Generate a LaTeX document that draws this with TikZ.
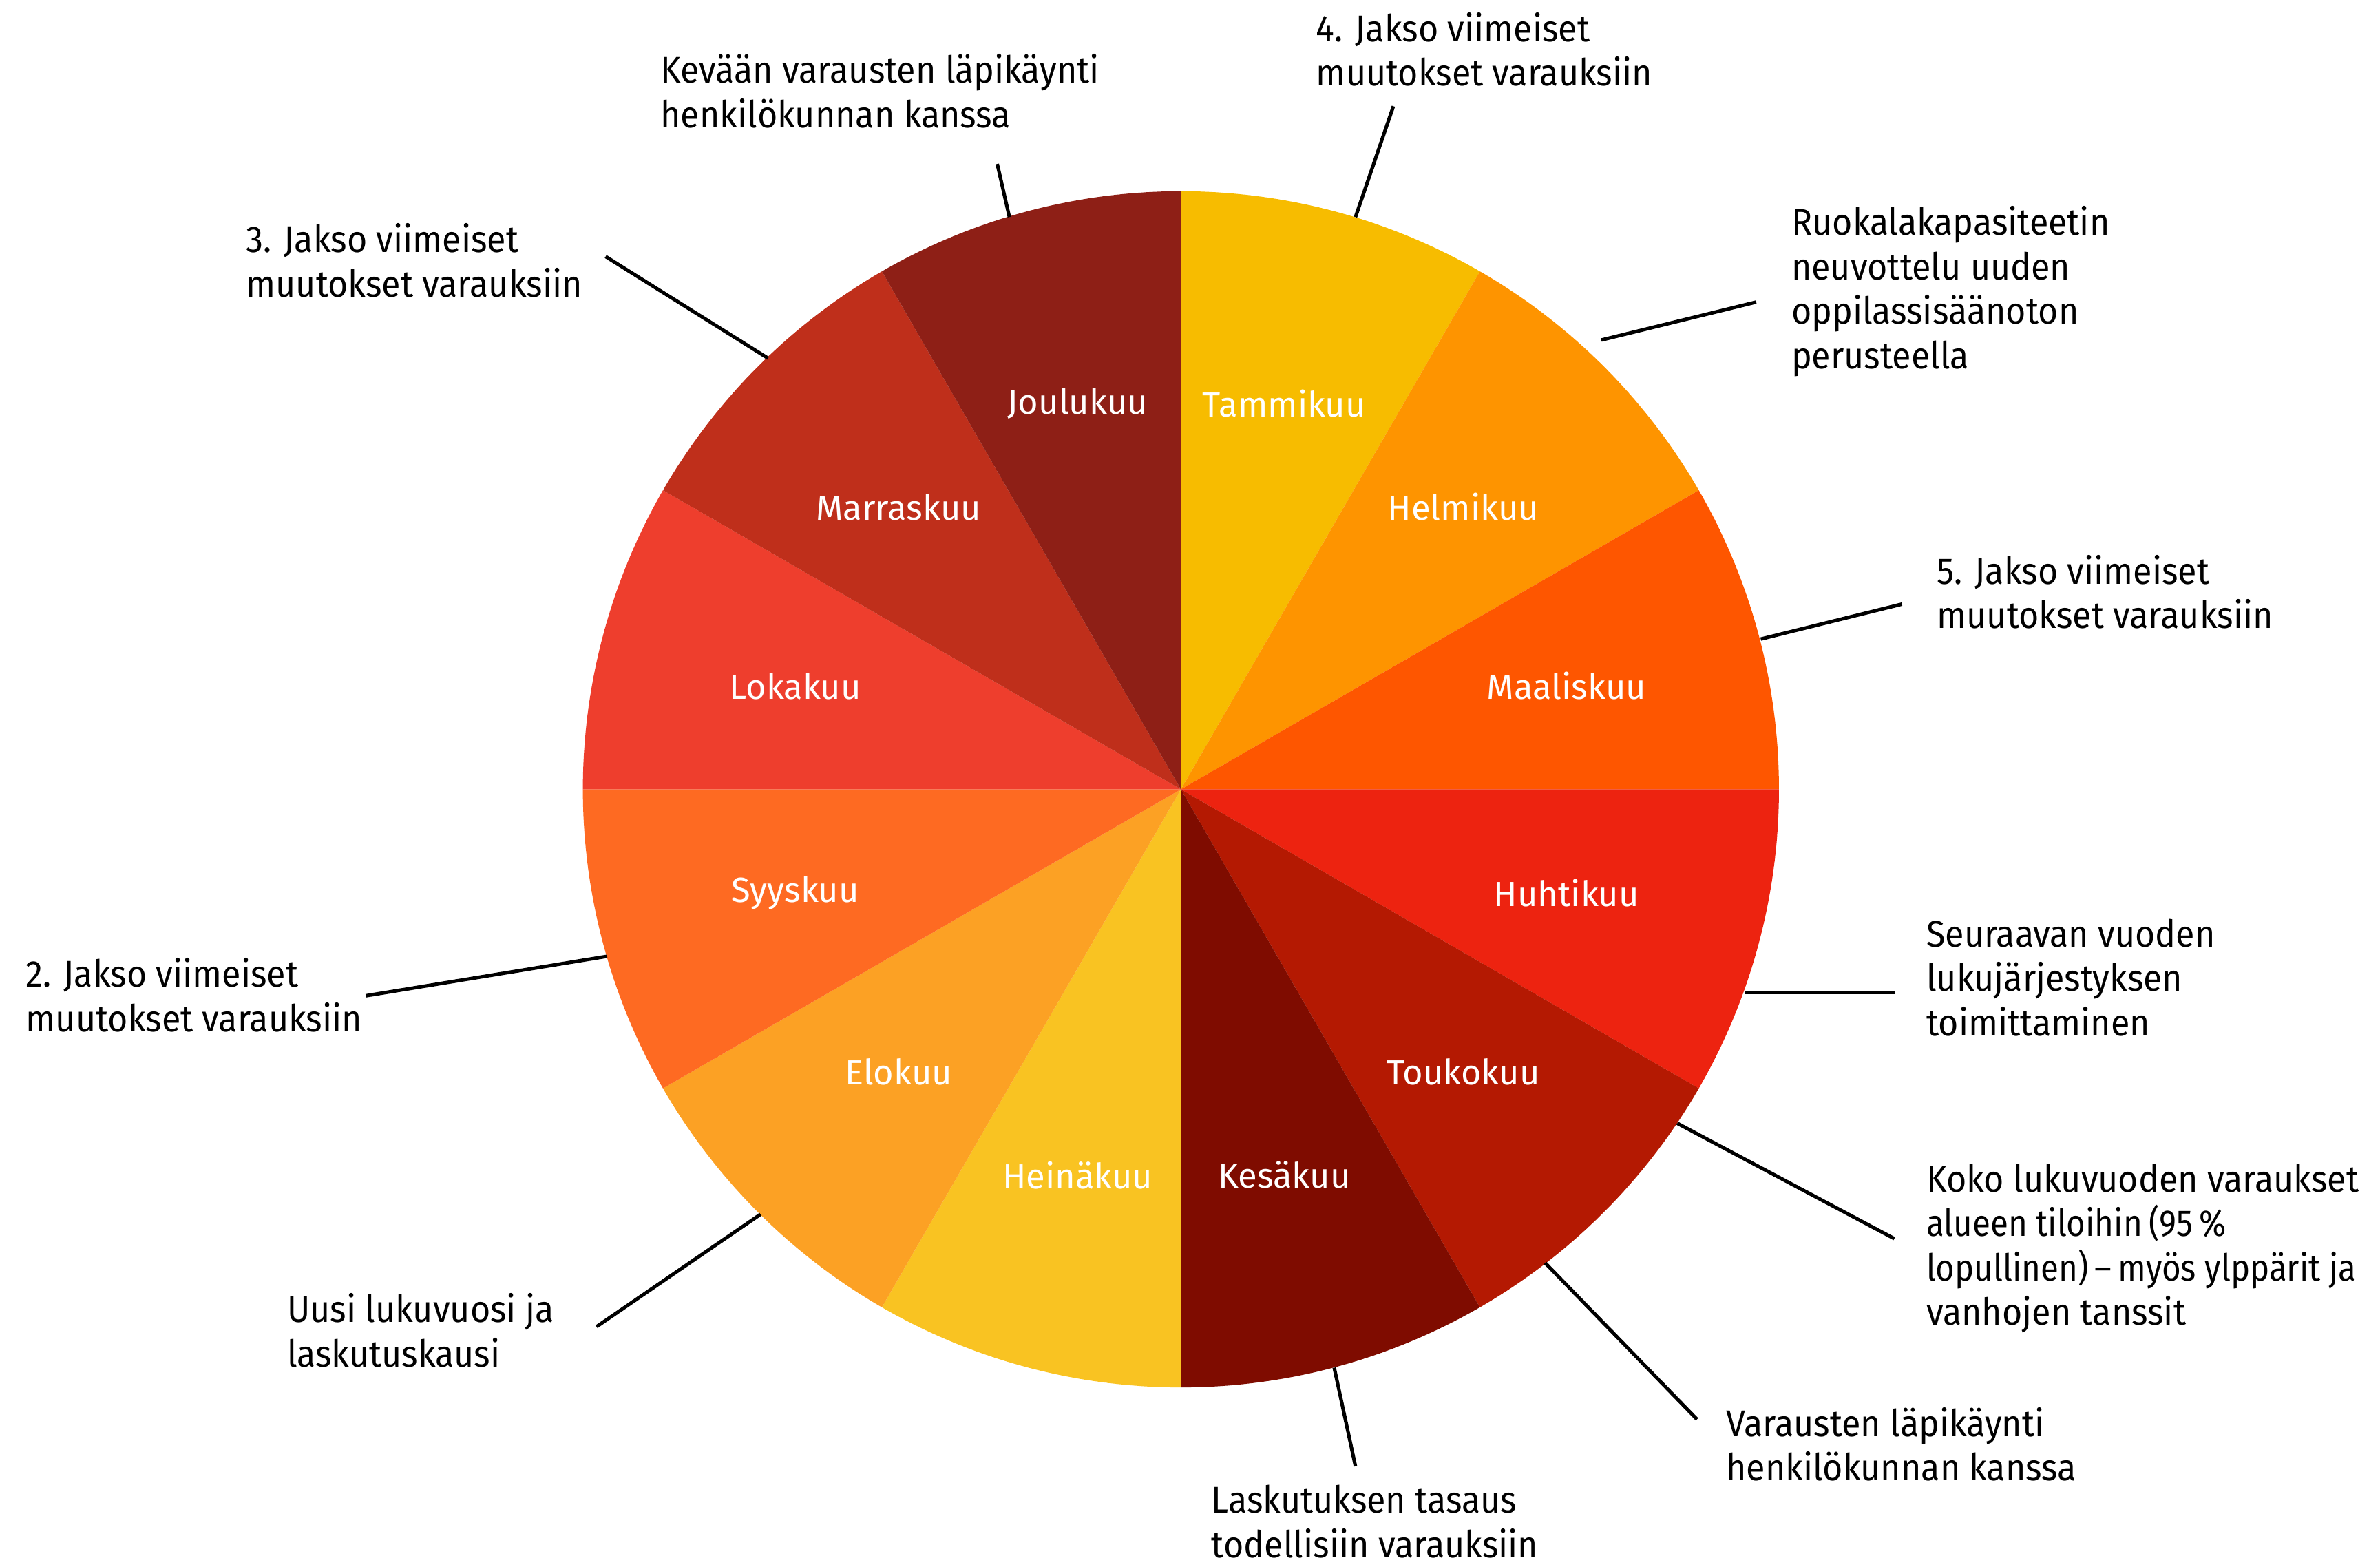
\documentclass[tikz,border=0pt]{standalone}
\usepackage{fontspec}
\setmainfont{Fira Sans}[FakeStretch=0.93]
\newfontfamily\monthfont{Fira Sans}
\newfontfamily\narrowfont{Fira Sans}[FakeStretch=0.88]
\begin{document}
\begin{tikzpicture}[x=1pt,y=1pt,
  ann/.style={font=\fontsize{24.5}{29.3}\selectfont, align=left, anchor=west, inner sep=0pt, text=black},
  mon/.style={font=\monthfont\fontsize{23}{26}\selectfont, text=white, inner sep=0pt},
  lead/.style={line width=2.3pt, draw=black}]
\useasboundingbox (0,0) rectangle (1568,-1032);
\coordinate (c) at (778,-520);
\foreach \i/\col/\nm in {0/F7BC00/Tammikuu,1/FE9400/Helmikuu,2/FE5600/Maaliskuu,3/ED2310/Huhtikuu,4/B41902/Toukokuu,5/7F0C00/Kesäkuu,6/F9C322/Heinäkuu,7/FCA124/Elokuu,8/FE6A22/Syyskuu,9/EE3E2D/Lokakuu,10/BF2F1B/Marraskuu,11/8E1F16/Joulukuu}{
  \pgfmathsetmacro\aa{90-30*\i}
  \pgfmathsetmacro\ab{60-30*\i}
  \pgfmathsetmacro\am{75-30*\i}
  \definecolor{slc}{HTML}{\col}
  \fill[slc] (c) -- ++(\aa:394) arc[start angle=\aa, end angle=\ab, radius=394] -- cycle;
  \path (c) ++(\am:263) node[mon] (m\i) {\nm};
}
% annotations
\node[ann] (a1) at (435,-60) {Kevään varausten läpikäynti\\henkilökunnan kanssa};
\node[ann] (a2) at (867,-32.5) {4. Jakso viimeiset\\muutokset varauksiin};
\node[ann] (a3) at (1180,-192) {Ruokalakapasiteetin\\neuvottelu uuden\\oppilassisäänoton\\perusteella};
\node[ann] (a4) at (1276,-390) {5. Jakso viimeiset\\muutokset varauksiin};
\node[ann] (a5) at (1269,-644) {Seuraavan vuoden\\lukujärjestyksen\\toimittaminen};
\node[ann] (a6) at (1269,-822.5) {Koko lukuvuoden varaukset\\{\narrowfont alueen tiloihin\,(95\,\%}\\{\narrowfont lopullinen)\,–\,myös ylppärit ja}\\vanhojen tanssit};
\node[ann] (a7) at (1137,-951.5) {Varausten läpikäynti\\henkilökunnan kanssa};
\node[ann] (a8) at (798,-1002.5) {Laskutuksen tasaus\\todellisiin varauksiin};
\node[ann] (a9) at (189,-876.5) {Uusi lukuvuosi ja\\laskutuskausi};
\node[ann] (a10) at (17,-655.5) {2. Jakso viimeiset\\muutokset varauksiin};
\node[ann] (a11) at (162,-171.5) {3. Jakso viimeiset\\muutokset varauksiin};
% connector ends
\coordinate (s1) at (657,-108); \coordinate (e1) at (665,-143);
\coordinate (s2) at (918,-70);  \coordinate (e2) at (893,-143);
\coordinate (s3) at (1157,-199); \coordinate (e3) at (1055,-224);
\coordinate (s4) at (1253,-398); \coordinate (e4) at (1160,-421);
\coordinate (s5) at (1248,-654); \coordinate (e5) at (1150,-654);
\coordinate (s6) at (1248,-816); \coordinate (e6) at (1105,-740);
\coordinate (s7) at (1118,-935); \coordinate (e7) at (1018,-832);
\coordinate (s8) at (893,-966);  \coordinate (e8) at (879,-901);
\coordinate (s9) at (393,-874);  \coordinate (e9) at (501,-800);
\coordinate (s10) at (241,-656); \coordinate (e10) at (400,-630);
\coordinate (s11) at (399,-169); \coordinate (e11) at (506,-236);
\foreach \k in {1,...,11}{\draw[lead] (s\k) -- (e\k);}
\end{tikzpicture}
\end{document}
